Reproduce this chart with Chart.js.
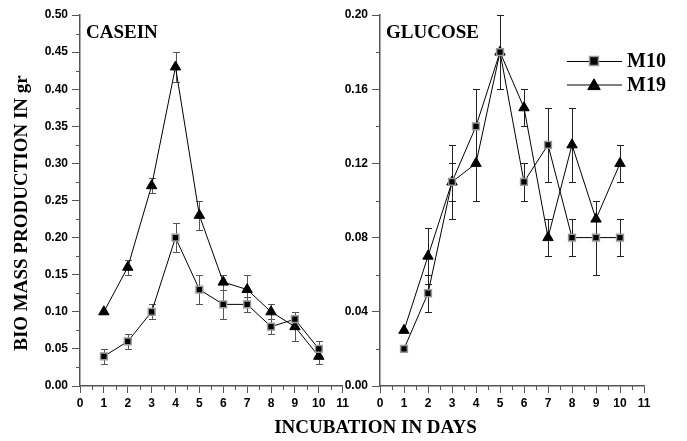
<!DOCTYPE html>
<html><head><meta charset="utf-8">
<script src="https://cdn.jsdelivr.net/npm/chart.js@4.4.1/dist/chart.umd.min.js"></script>
<style>
html,body{margin:0;padding:0;background:#fff;width:687px;height:441px;overflow:hidden}
canvas{position:absolute;top:0}
#c1{left:0}
#c2{left:260px}
</style></head><body>
<canvas id="c1" width="352" height="441"></canvas>
<canvas id="c2" width="427" height="441"></canvas>
<script>
// ---- data ----
const days = [1,2,3,4,5,6,7,8,9,10];
const seriesNames = ['M10','M19'];
const panelNames = ['CASEIN','GLUCOSE'];
const yTitle = 'BIO MASS PRODUCTION IN gr';
const xTitle = 'INCUBATION IN DAYS';

const caseinM10    = [0.04,0.06,0.10,0.20,0.13,0.11,0.11,0.08,0.09,0.05];
const caseinM10Err = [0.01,0.01,0.01,0.02,0.02,0.02,0.01,0.01,0.01,0.01];
const caseinM19    = [0.10,0.16,0.27,0.43,0.23,0.14,0.13,0.10,0.08,0.04];
const caseinM19Err = [0,   0.01,0.01,0.02,0.02,0.01,0.02,0.01,0.02,0.01];

const glucoseM10    = [0.02,0.05,0.11,0.14,0.18,0.11,0.13,0.08,0.08,0.08];
const glucoseM10Err = [0,   0.01,0.01,0.02,0.02,0.01,0.02,0.01,0.02,0.01];
const glucoseM19    = [0.03,0.07,0.11,0.12,0.18,0.15,0.08,0.13,0.09,0.12];
const glucoseM19Err = [0,   0.015,0.02,0.02,0.02,0.01,0.01,0.02,0.01,0.01];

const xTicks = [0,1,2,3,4,5,6,7,8,9,10,11];
const caseinYTicks = [0,0.05,0.10,0.15,0.20,0.25,0.30,0.35,0.40,0.45,0.50];
const glucoseYTicks = [0,0.04,0.08,0.12,0.16,0.20];

// ---- helpers ----
const AXIS = '#555';
const TICKFONT = {family:'"Liberation Sans", Arial, sans-serif', weight:'bold', size:12};
const SERIF = '"Liberation Serif", "Times New Roman", serif';

function mids(arr){ const r=[]; for(let i=0;i<arr.length-1;i++) r.push((arr[i]+arr[i+1])/2); return r; }

const styleM10 = {pointStyle:'rect', pointRadius:4.8, pointBackgroundColor:'#000', pointBorderColor:'#999', pointBorderWidth:1.5};
const styleM19 = {pointStyle:'triangle', pointRadius:6, pointBackgroundColor:'#000', pointBorderColor:'#000', pointBorderWidth:1};

function makeDs(label, vals, errs, st){
  return Object.assign({
    label, data: days.map((d,i)=>({x:d, y:vals[i]})), errors: errs,
    borderColor:'#000', borderWidth:1, tension:0, fill:false
  }, st);
}

const errorBars = {
  id:'errorBars',
  beforeDatasetsDraw(chart, args, opts){
    const ctx = chart.ctx, xs = chart.scales.x, ys = chart.scales.y;
    ctx.save(); ctx.strokeStyle = opts.color || '#333'; ctx.lineWidth = 1;
    chart.data.datasets.forEach(ds=>{
      ds.data.forEach((p,i)=>{
        const e = ds.errors[i]; if(!e) return;
        const x = Math.round(xs.getPixelForValue(p.x)) + 0.5;
        const y1 = Math.round(ys.getPixelForValue(p.y+e)) + 0.5;
        const y2 = Math.round(ys.getPixelForValue(p.y-e)) + 0.5;
        ctx.beginPath();
        ctx.moveTo(x,y1); ctx.lineTo(x,y2);
        ctx.moveTo(x-3.5,y1); ctx.lineTo(x+3.5,y1);
        ctx.moveTo(x-3.5,y2); ctx.lineTo(x+3.5,y2);
        ctx.stroke();
      });
    });
    ctx.restore();
  }
};

const minorTicks = {
  id:'minorTicks',
  afterDraw(chart, args, opts){
    const ctx = chart.ctx, xs = chart.scales.x, ys = chart.scales.y, a = chart.chartArea;
    ctx.save(); ctx.strokeStyle = AXIS; ctx.lineWidth = 1;
    ctx.beginPath();
    opts.xMinor.forEach(v=>{ const x = Math.round(xs.getPixelForValue(v))+0.5; ctx.moveTo(x,a.bottom); ctx.lineTo(x,a.bottom+4); });
    opts.yMinor.forEach(v=>{ const y = Math.round(ys.getPixelForValue(v))+0.5; ctx.moveTo(a.left,y); ctx.lineTo(a.left-4,y); });
    ctx.stroke();
    ctx.restore();
  }
};

const texts = {
  id:'texts',
  afterDraw(chart, args, opts){
    const ctx = chart.ctx, a = chart.chartArea;
    ctx.save();
    ctx.fillStyle = '#000';
    ctx.font = 'bold 19px ' + SERIF;
    ctx.textAlign = 'left'; ctx.textBaseline = 'alphabetic';
    ctx.fillText(opts.panel, a.left + 6, a.top + 23);
    if (opts.yTitle){
      ctx.save();
      ctx.translate(26.5, 213);
      ctx.rotate(-Math.PI/2);
      ctx.textAlign = 'center';
      ctx.fillText(opts.yTitle, 0, 0);
      ctx.restore();
    }
    if (opts.xTitle){
      ctx.textAlign = 'center';
      ctx.fillText(opts.xTitle, a.left - 4.5, 433);
    }
    if (opts.legend){
      const H = Chart.helpers;
      chart.data.datasets.forEach((ds,i)=>{
        const y = a.top + 46 + i*23.5;
        const x0 = a.left + 187, x1 = a.left + 242, xm = a.left + 214;
        ctx.strokeStyle = '#000'; ctx.lineWidth = 1;
        ctx.beginPath(); ctx.moveTo(x0, y+0.5); ctx.lineTo(x1, y+0.5); ctx.stroke();
        ctx.fillStyle = ds.pointBackgroundColor; ctx.strokeStyle = ds.pointBorderColor; ctx.lineWidth = ds.pointBorderWidth;
        H.drawPoint(ctx, {pointStyle: ds.pointStyle, radius: ds.pointStyle==='rect' ? 6.3 : 7.2, rotation:0, borderWidth: ds.pointBorderWidth}, xm, y + (ds.pointStyle==='triangle'?1.5:0));
        ctx.fillStyle = '#000';
        ctx.font = 'bold 20px ' + SERIF;
        ctx.textAlign = 'left'; ctx.textBaseline = 'middle';
        ctx.fillText(ds.label, x1 + 5, y + 1);
      });
    }
    ctx.restore();
  }
};

function makeChart(id, datasets, yTicks, yAxisWidth, padRight, textOpts, errColor){
  const yMax = yTicks[yTicks.length-1];
  return new Chart(document.getElementById(id), {
    type:'line',
    data:{datasets},
    options:{
      responsive:false, animation:false, devicePixelRatio:1,
      layout:{padding:{top:15, right:padRight, left:0, bottom:0}},
      plugins:{
        legend:{display:false}, tooltip:{enabled:false},
        errorBars:{color:errColor},
        minorTicks:{xMinor: mids(xTicks), yMinor: mids(yTicks)},
        texts: textOpts
      },
      scales:{
        x:{type:'linear', min:xTicks[0], max:xTicks[xTicks.length-1],
          afterBuildTicks: s=>{ s.ticks = xTicks.map(v=>({value:v})); },
          afterFit: s=>{ s.height = 55; },
          grid:{drawOnChartArea:false, drawTicks:true, tickLength:7, color:AXIS, lineWidth:1},
          border:{display:true, color:AXIS, width:1.5},
          ticks:{font:TICKFONT, color:'#000', padding:3, autoSkip:false, maxRotation:0, callback:v=>String(v)}
        },
        y:{type:'linear', min:0, max:yMax,
          afterBuildTicks: s=>{ s.ticks = yTicks.map(v=>({value:v})); },
          afterFit: s=>{ s.width = yAxisWidth; },
          grid:{drawOnChartArea:false, drawTicks:true, tickLength:8, color:AXIS, lineWidth:1},
          border:{display:true, color:AXIS, width:1.5},
          ticks:{font:TICKFONT, color:'#000', padding:4, autoSkip:false, callback:v=>Number(v).toFixed(2)}
        }
      }
    },
    plugins:[errorBars, minorTicks, texts]
  });
}

makeChart('c1', [
  makeDs(seriesNames[0], caseinM10, caseinM10Err, styleM10),
  makeDs(seriesNames[1], caseinM19, caseinM19Err, styleM19)
], caseinYTicks, 80, 7, {panel:panelNames[0], yTitle:yTitle}, '#555');

makeChart('c2', [
  makeDs(seriesNames[0], glucoseM10, glucoseM10Err, styleM10),
  makeDs(seriesNames[1], glucoseM19, glucoseM19Err, styleM19)
], glucoseYTicks, 120, 43, {panel:panelNames[1], xTitle:xTitle, legend:true}, '#222');
</script>
</body></html>
